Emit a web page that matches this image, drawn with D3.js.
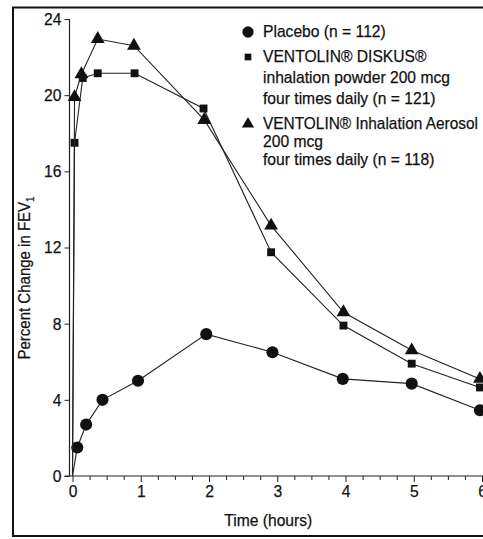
<!DOCTYPE html>
<html><head><meta charset="utf-8">
<script src="https://cdn.jsdelivr.net/npm/d3@7"></script>
<style>
html,body{margin:0;padding:0;background:#fff;}
svg text{font-family:"Liberation Sans Narrow","Arial Narrow","Liberation Sans",Arial,sans-serif;fill:#111;stroke:#111;stroke-width:0.25px;}
</style></head>
<body>
<svg id="c" width="483" height="539"></svg>
<script>
// ---- data ----
const placeboTime   = [0, 0.07, 0.2, 0.44, 0.96, 1.96, 2.93, 3.96, 4.97, 5.97];
const placeboValues = [0, 1.5, 2.7, 4.0, 5.0, 7.45, 6.5, 5.1, 4.85, 3.45];
const diskusTime    = [0, 0.03, 0.15, 0.37, 0.91, 1.92, 2.91, 3.97, 4.97, 5.97];
const diskusValues  = [0, 17.5, 20.9, 21.15, 21.15, 19.3, 11.75, 7.9, 5.9, 4.65];
const aerosolTime   = [0, 0.03, 0.13, 0.37, 0.9, 1.93, 2.91, 3.97, 4.97, 5.97];
const aerosolValues = [0, 19.9, 21.1, 22.95, 22.6, 18.7, 13.15, 8.6, 6.6, 5.1];
const yTicks = [0, 4, 8, 12, 16, 20, 24];
const xTicks = [0, 1, 2, 3, 4, 5, 6];
const legendLines = [
  ["Placebo (n = 112)"],
  ["VENTOLIN\u00AE DISKUS\u00AE", "inhalation powder 200 mcg", "four times daily (n = 121)"],
  ["VENTOLIN\u00AE Inhalation Aerosol", "200 mcg", "four times daily (n = 118)"]
];

const svg = d3.select("#c");
const x = d3.scaleLinear().domain([0, 6]).range([72.5, 482]);
const y = d3.scaleLinear().domain([0, 24]).range([476, 19]);
const K = 0.92; // horizontal condensing of the narrow typeface
function condense(sel, maxW) {
  sel.each(function () {
    let w = this.getComputedTextLength() * K;
    if (maxW && w > maxW) w = maxW;
    if (w > 0) d3.select(this).attr("textLength", w).attr("lengthAdjust", "spacingAndGlyphs");
  });
}

// frame
svg.append("rect").attr("x", 13).attr("y", 7.5).attr("width", 480).attr("height", 528.5)
  .attr("fill", "none").attr("stroke", "#111").attr("stroke-width", 2);

// y axis
const ya = svg.append("g").attr("transform", `translate(${x(0) - 3},0)`)
  .call(d3.axisLeft(y).tickValues(yTicks).tickSize(5).tickPadding(3).tickFormat(d3.format("d")));
ya.select(".domain").attr("stroke", "#222").attr("stroke-width", 1.2).attr("d", `M0,${y(24)}V${y(0)}`);
ya.selectAll(".tick line").attr("stroke", "#222");
ya.selectAll("text").style("font-size", "17px").call(condense);

// x axis
const xa = svg.append("g").attr("transform", `translate(0,${y(0)})`)
  .call(d3.axisBottom(x).tickValues(xTicks).tickSize(6).tickPadding(3).tickFormat(d3.format("d")));
xa.select(".domain").attr("stroke", "#222").attr("stroke-width", 1.2).attr("d", `M${x(0) - 8},0H483`);
xa.selectAll(".tick line").attr("stroke", "#222");
xa.selectAll("text").style("font-size", "17px").call(condense);
const minor = d3.range(0, 6.01, 0.25).filter(v => Math.abs(v - Math.round(v)) > 0.01);
svg.append("g").attr("transform", `translate(0,${y(0)})`)
  .call(d3.axisBottom(x).tickValues(minor).tickSize(4).tickFormat(""))
  .call(g => g.select(".domain").remove())
  .selectAll("line").attr("stroke", "#222");

// axis titles
svg.append("text").attr("x", x(3) - 9).attr("y", 526).attr("text-anchor", "middle")
  .style("font-size", "17px").text("Time (hours)").call(condense);
const yt = svg.append("text").attr("transform", `translate(30,278) rotate(-90)`)
  .attr("text-anchor", "middle").style("font-size", "17px");
yt.append("tspan").text("Percent Change in FEV");
yt.append("tspan").attr("dy", 4).style("font-size", "11px").text("1");
condense(yt, 163);

// lines
const series = [
  {t: placeboTime, v: placeboValues, shape: "circle"},
  {t: diskusTime, v: diskusValues, shape: "square"},
  {t: aerosolTime, v: aerosolValues, shape: "triangle"}
];
const line = d3.line().x(d => x(d[0])).y(d => y(d[1]));
const sym = {
  circle: d3.symbol().type(d3.symbolCircle).size(115),
  square: d3.symbol().type(d3.symbolSquare).size(62),
  triangle: d3.symbol().type(d3.symbolTriangle).size(82)
};
series.forEach(s => {
  const pts = s.t.map((t, i) => [t, s.v[i]]);
  svg.append("path").datum(pts).attr("d", line).attr("fill", "none")
    .attr("stroke", "#222").attr("stroke-width", 1.1);
  svg.append("g").selectAll("path").data(pts.slice(1)).join("path")
    .attr("transform", d => `translate(${x(d[0])},${y(d[1])})`)
    .attr("d", sym[s.shape]()).attr("fill", "#111");
});

// legend
const legY = [37, 62, 129];
const legShape = [d3.symbolCircle, d3.symbolSquare, d3.symbolTriangle];
const legSize = [100, 45, 65];
legendLines.forEach((lines, i) => {
  svg.append("path").attr("transform", `translate(248,${legY[i] - 5})`)
    .attr("d", d3.symbol().type(legShape[i]).size(legSize[i])())
    .attr("fill", "#111");
  lines.forEach((l, j) => {
    const dy = i === 1 ? 21 : 18;
    svg.append("text").attr("x", 263).attr("y", legY[i] + j * dy)
      .style("font-size", "17px").text(l).call(condense, 215);
  });
});
</script>
</body></html>
